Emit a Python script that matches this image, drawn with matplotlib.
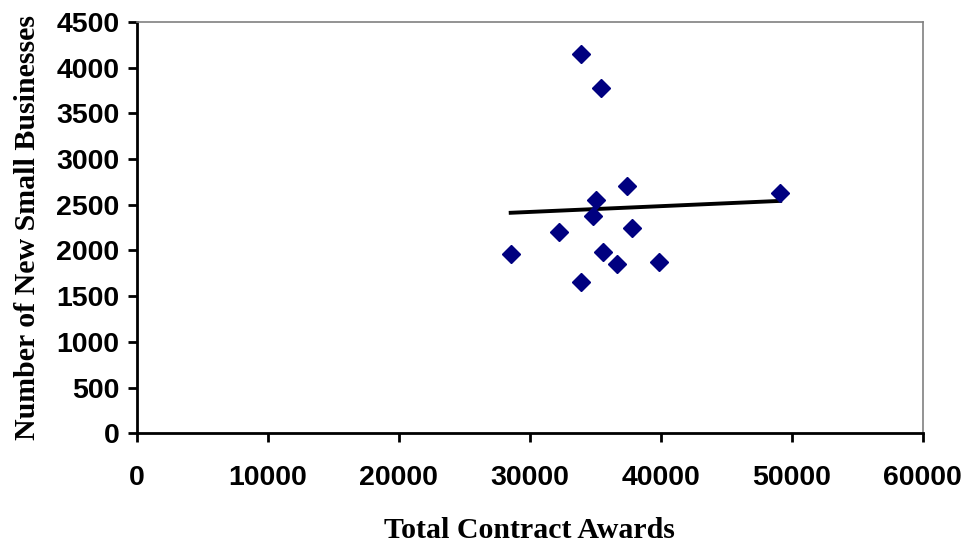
import numpy as np
import matplotlib.pyplot as plt

# Total contract awards vs number of new small businesses
contract_awards = [33880, 35410, 37400, 35070, 49120, 34800, 32200,
                   37820, 28540, 35560, 36630, 39840, 33880]
new_businesses = [4150, 3781, 2709, 2553, 2626, 2377, 2206,
                  2249, 1965, 1987, 1852, 1877, 1659]

x_ticks = [0, 10000, 20000, 30000, 40000, 50000, 60000]
y_ticks = [0, 500, 1000, 1500, 2000, 2500, 3000, 3500, 4000, 4500]

fig = plt.figure(figsize=(9.7, 5.45), dpi=100)
ax = fig.add_axes([0.1412, 0.205, 0.81, 0.7546])

ax.plot(contract_awards, new_businesses, linestyle='none', marker='D',
        color='#000080', markersize=9, zorder=3)

# linear trendline
slope, intercept = np.polyfit(contract_awards, new_businesses, 1)
xs = np.array([min(contract_awards), max(contract_awards)])
ax.plot(xs, slope * xs + intercept, color='black', linewidth=2.8, zorder=2)

ax.set_xlim(0, 60000)
ax.set_ylim(0, 4500)
ax.set_xticks(x_ticks)
ax.set_yticks(y_ticks)

tick_font = {'family': 'Liberation Sans', 'weight': 'bold', 'size': 20.5}
ax.set_xticklabels([str(t) for t in x_ticks], fontdict=tick_font)
ax.set_yticklabels([str(t) for t in y_ticks], fontdict=tick_font)
ax.tick_params(axis='both', direction='out', length=6.5, width=2, color='black')
ax.tick_params(axis='x', pad=16)
ax.tick_params(axis='y', pad=6)

for side in ['left', 'bottom']:
    ax.spines[side].set_linewidth(2)
    ax.spines[side].set_color('black')
for side in ['top', 'right']:
    ax.spines[side].set_linewidth(1.2)
    ax.spines[side].set_color('#808080')

label_font = {'family': 'Liberation Serif', 'weight': 'bold', 'size': 21.5}
ax.set_xlabel("Total Contract Awards", fontdict=label_font, labelpad=19)
ax.set_ylabel("Number of New Small Businesses", fontdict=label_font, labelpad=11)

plt.savefig("out.png", dpi=100)
